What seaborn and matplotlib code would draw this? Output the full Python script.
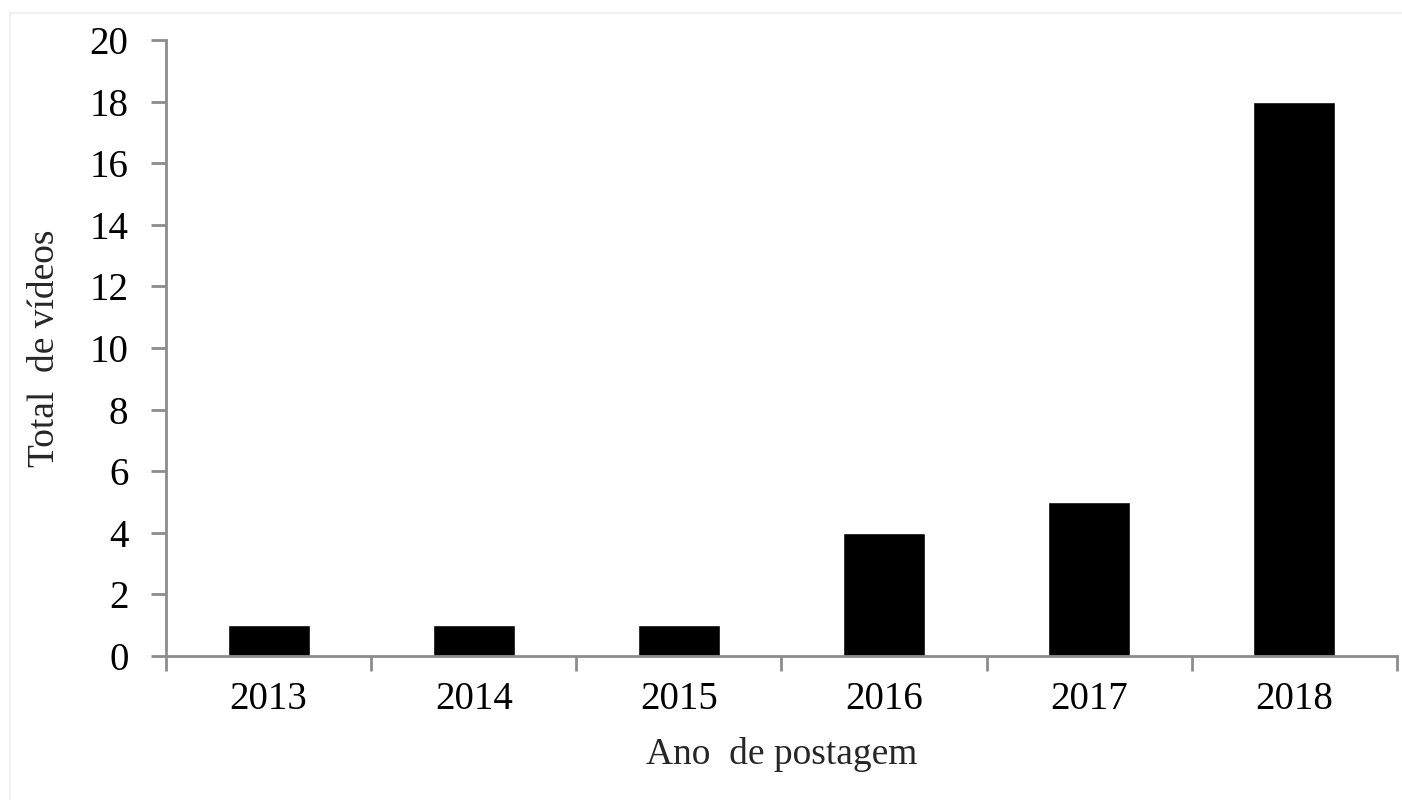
import matplotlib
matplotlib.use("Agg")
import matplotlib.pyplot as plt
import seaborn as sns
import pandas as pd
import numpy as np
from matplotlib.patches import Rectangle

# -----------------------------
# DATA
# -----------------------------
years = ["2013", "2014", "2015", "2016", "2017", "2018"]
total_videos = [1, 1, 1, 4, 5, 18]
y_ticks = [0, 2, 4, 6, 8, 10, 12, 14, 16, 18, 20]

df = pd.DataFrame({"Ano": years, "Total": total_videos})

sns.set_theme(style="white")
plt.rcParams["font.family"] = ["Liberation Serif", "DejaVu Serif"]

axis_grey = "#8c8c8c"

fig = plt.figure(figsize=(14.02, 8), dpi=100)
ax = fig.add_axes([0.1184, 0.18, 0.878, 0.77])

sns.barplot(data=df, x="Ano", y="Total", color="black", width=0.4,
            saturation=1, ax=ax)

ax.set_xlim(-0.5, len(years) - 0.5)
ax.set_ylim(0, 20)
ax.set_yticks(y_ticks)

# category boundary ticks on the x axis
ax.set_xticks(np.arange(-0.5, len(years), 1.0), minor=True)
ax.tick_params(axis="x", which="major", bottom=True, length=0, pad=18,
               labelsize=28, labelcolor="black")
ax.tick_params(axis="x", which="minor", bottom=True, length=11, width=2,
               color=axis_grey, direction="out")
ax.tick_params(axis="y", which="major", left=True, length=11, width=2,
               color=axis_grey, direction="out", labelsize=28,
               labelcolor="black", pad=16)

for side in ["top", "right"]:
    ax.spines[side].set_visible(False)
for side in ["left", "bottom"]:
    ax.spines[side].set_color(axis_grey)
    ax.spines[side].set_linewidth(2)

ax.set_xlabel("Ano  de postagem", fontsize=27, labelpad=14)
ax.set_ylabel("Total  de vídeos", fontsize=27, labelpad=20)

# faint frame around the picture
fig.patches.append(Rectangle((0.007, -0.01), 1.0, 0.994, transform=fig.transFigure,
                             fill=False, edgecolor="#f0f0f0", linewidth=1.5))

fig.savefig("out.png", dpi=100)
